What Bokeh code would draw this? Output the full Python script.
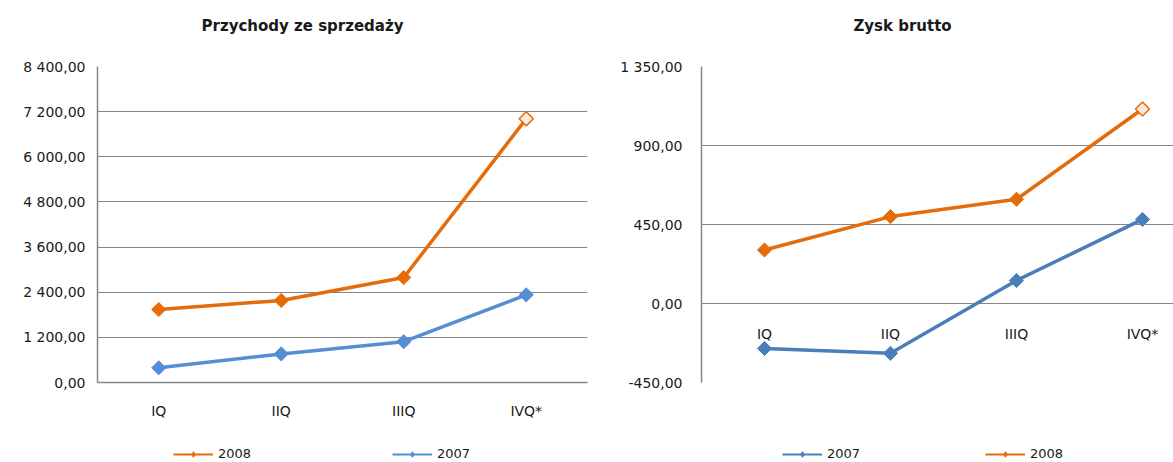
import numpy as np
from bokeh.plotting import figure
from bokeh.models import (FactorRange, Range1d, FixedTicker, Legend,
                          LegendItem, Label)
from bokeh.layouts import row, column
from bokeh.embed import file_html
from bokeh.resources import INLINE
from bokeh.core.properties import value

# ---------------- data ----------------
quarters = ["IQ", "IIQ", "IIIQ", "IVQ*"]

sales_title = "Przychody ze sprzedaży"
sales_2008 = [1940, 2180, 2790, 7010]
sales_2007 = [390, 760, 1085, 2330]
sales_ticks = [0, 1200, 2400, 3600, 4800, 6000, 7200, 8400]

profit_title = "Zysk brutto"
profit_2007 = [-256, -284, 131, 479]
profit_2008 = [305, 495, 594, 1108]
profit_ticks = [-450, 0, 450, 900, 1350]

# ---------------- styles ----------------
FONT = "DejaVu Sans"
ORANGE = "#E46C0A"
ORANGE_LIGHT = "#FDE9D9"
BLUE_L = "#558ED5"
BLUE_R = "#4A7EBB"
GRID = "#868686"
TXT = "#1a1a1a"
DIAMOND = np.pi / 4


def pl_fmt(v):
    s = f"{abs(v):,.2f}".replace(",", " ").replace(".", ",")
    return ("-" if v < 0 else "") + s


def strip(width, height):
    f = figure(width=width, height=height, x_range=Range1d(0, 1),
               y_range=Range1d(0, 1), output_backend="svg",
               toolbar_location=None, min_border=0)
    f.axis.visible = False
    f.grid.visible = False
    f.outline_line_color = None
    return f


def title_strip(width, text, cx):
    f = strip(width, 40)
    f.add_layout(Label(x=cx, y=15, x_units="screen", y_units="screen",
                       text=text, text_align="center", text_baseline="middle",
                       text_font=FONT, text_font_size="15px",
                       text_font_style="bold", text_color=TXT))
    return f


def legend_strip(width, entries):
    f = strip(width, 20)
    for label, color, x in entries:
        rl = f.line([np.nan], [np.nan], line_color=color, line_width=2)
        rs = f.scatter([np.nan], [np.nan], marker="diamond",
                       size=11, fill_color=color, line_color=color)
        f.add_layout(Legend(
            items=[LegendItem(label=value(label), renderers=[rl, rs])],
            location=(x, 1), orientation="horizontal",
            glyph_width=40, glyph_height=14, label_height=14,
            label_standoff=5, padding=0, margin=0, spacing=0,
            border_line_color=None, background_fill_alpha=0,
            label_text_font=FONT, label_text_font_size="13px",
            label_text_color=TXT))
    return f


def style_common(p, ticks):
    p.outline_line_color = None
    p.background_fill_color = "white"
    p.border_fill_color = "white"
    p.xgrid.visible = False
    p.ygrid.grid_line_color = GRID
    p.ygrid.grid_line_width = 1
    p.yaxis.ticker = FixedTicker(ticks=ticks)
    p.yaxis.major_label_overrides = {t: pl_fmt(t) for t in ticks}
    p.yaxis.axis_line_color = GRID
    p.yaxis.axis_line_width = 1.5
    p.yaxis.major_tick_line_color = None
    p.yaxis.minor_tick_line_color = None
    p.yaxis.major_tick_out = 0
    p.yaxis.major_label_text_font = FONT
    p.yaxis.major_label_text_font_size = "14px"
    p.yaxis.major_label_text_color = TXT


def series(p, x, y, color, last_hollow):
    p.line(x, y, line_color=color, line_width=3.5)
    if last_hollow:
        p.scatter(x[:-1], y[:-1], marker="square", angle=DIAMOND, size=10,
                  fill_color=color, line_color=color)
        p.scatter(x[-1:], y[-1:], marker="square", angle=DIAMOND, size=10,
                  fill_color=ORANGE_LIGHT, line_color=color, line_width=1.5)
    else:
        p.scatter(x, y, marker="square", angle=DIAMOND, size=10,
                  fill_color=color, line_color=color)


# ---------------- left chart ----------------
p1 = figure(width=595, height=402,
            x_range=FactorRange(*quarters),
            y_range=Range1d(sales_ticks[0], sales_ticks[-1]),
            output_backend="svg", toolbar_location=None,
            min_border_left=97, min_border_right=8,
            min_border_top=26, min_border_bottom=59)
style_common(p1, sales_ticks)
p1.yaxis.major_label_standoff = 12
p1.xaxis.axis_line_color = GRID
p1.xaxis.axis_line_width = 1.5
p1.xaxis.major_tick_line_color = None
p1.xaxis.major_tick_out = 0
p1.xaxis.major_label_standoff = 20
p1.xaxis.major_label_text_font = FONT
p1.xaxis.major_label_text_font_size = "14px"
p1.xaxis.major_label_text_color = TXT

series(p1, quarters, sales_2008, ORANGE, True)
series(p1, quarters, sales_2007, BLUE_L, False)
t1 = title_strip(595, sales_title, 302)
leg1 = legend_strip(595, [("2008", ORANGE, 173), ("2007", BLUE_L, 392)])

# ---------------- right chart ----------------
xs = [i + 0.5 for i in range(len(quarters))]
p2 = figure(width=578, height=402,
            x_range=Range1d(0, 3.746),
            y_range=Range1d(profit_ticks[0], profit_ticks[-1]),
            output_backend="svg", toolbar_location=None,
            min_border_left=106, min_border_right=0,
            min_border_top=22, min_border_bottom=60)
style_common(p2, profit_ticks)
p2.yaxis.major_label_standoff = 19
p2.xaxis.visible = False

p2.text(x=xs, y=0, text=quarters, y_offset=30, text_align="center",
        text_baseline="middle", text_font=value(FONT), text_font_size="14px",
        text_color=TXT)
series(p2, xs, profit_2008, ORANGE, True)
series(p2, xs, profit_2007, BLUE_R, False)
t2 = title_strip(578, profit_title, 307)
leg2 = legend_strip(578, [("2007", BLUE_R, 187), ("2008", ORANGE, 390)])

layout = column(row(t1, t2), row(p1, p2), row(leg1, leg2))
open("out.html", "w").write(file_html(layout, INLINE))
